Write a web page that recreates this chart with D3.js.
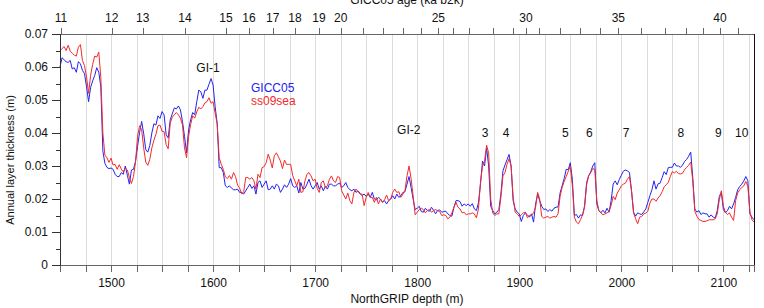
<!DOCTYPE html>
<html>
<head>
<meta charset="utf-8">
<script src="https://cdn.jsdelivr.net/npm/d3@7"></script>
<style>
  body { margin: 0; background: #fff; }
  svg text { font-family: "Liberation Sans", Arial, Helvetica, sans-serif; fill: #111; }
</style>
</head>
<body>
<div id="viz"></div>
<script>
// NorthGRIP depth (m) of each sample
const depth = [
  1450,1452,1454,1456,1458,1460,1462,1464,1466,1468,1470,1472,1474,1476,1478,1480,1482,1484,1486,1488,
  1490,1492,1494,1496,1498,1500,1502,1504,1506,1508,1510,1512,1514,1516,1518,1520,1522,1524,1526,1528,
  1530,1532,1534,1536,1538,1540,1542,1544,1546,1548,1550,1552,1554,1556,1558,1560,1562,1564,1566,1568,
  1570,1572,1574,1576,1578,1580,1582,1584,1586,1588,1590,1592,1594,1596,1598,1600,1602,1604,1606,1608,
  1610,1612,1614,1616,1618,1620,1622,1624,1626,1628,1630,1632,1634,1636,1638,1640,1642,1644,1646,1648,
  1650,1652,1654,1656,1658,1660,1662,1664,1666,1668,1670,1672,1674,1676,1678,1680,1682,1684,1686,1688,
  1690,1692,1694,1696,1698,1700,1702,1704,1706,1708,1710,1712,1714,1716,1718,1720,1722,1724,1726,1728,
  1730,1732,1734,1736,1738,1740,1742,1744,1746,1748,1750,1752,1754,1756,1758,1760,1762,1764,1766,1768,
  1770,1772,1774,1776,1778,1780,1782,1784,1786,1788,1790,1792,1794,1796,1798,1800,1802,1804,1806,1808,
  1810,1812,1814,1816,1818,1820,1822,1824,1826,1828,1830,1832,1834,1836,1838,1840,1842,1844,1846,1848,
  1850,1852,1854,1856,1858,1860,1862,1864,1866,1868,1870,1872,1874,1876,1878,1880,1882,1884,1886,1888,
  1890,1892,1894,1896,1898,1900,1902,1904,1906,1908,1910,1912,1914,1916,1918,1920,1922,1924,1926,1928,
  1930,1932,1934,1936,1938,1940,1942,1944,1946,1948,1950,1952,1954,1956,1958,1960,1962,1964,1966,1968,
  1970,1972,1974,1976,1978,1980,1982,1984,1986,1988,1990,1992,1994,1996,1998,2000,2002,2004,2006,2008,
  2010,2012,2014,2016,2018,2020,2022,2024,2026,2028,2030,2032,2034,2036,2038,2040,2042,2044,2046,2048,
  2050,2052,2054,2056,2058,2060,2062,2064,2066,2068,2070,2072,2074,2076,2078,2080,2082,2084,2086,2088,
  2090,2092,2094,2096,2098,2100,2102,2104,2106,2108,2110,2112,2114,2116,2118,2120,2122,2124,2126,2128,
  2130
];

// annual layer thickness (m), GICC05
const gicc05 = [
  0.0600,0.0628,0.0622,0.0616,0.0614,0.0620,0.0594,0.0598,0.0584,0.0616,0.0610,0.0590,0.0580,0.0540,0.0495,0.0538,0.0558,0.0574,0.0598,0.0584,
  0.0540,0.0345,0.0308,0.0296,0.0292,0.0294,0.0290,0.0275,0.0268,0.0268,0.0280,0.0275,0.0300,0.0272,0.0245,0.0288,0.0290,0.0314,0.0360,0.0402,
  0.0435,0.0398,0.0350,0.0342,0.0362,0.0400,0.0428,0.0424,0.0452,0.0444,0.0465,0.0455,0.0395,0.0385,0.0440,0.0458,0.0476,0.0473,0.0482,
  0.0470,0.0435,0.0390,0.0340,0.0410,0.0440,0.0462,0.0455,0.0495,0.0530,0.0525,0.0505,0.0530,0.0530,0.0548,0.0565,0.0545,0.0480,0.0430,0.0295,
  0.0295,0.0280,0.0240,0.0235,0.0240,0.0233,0.0228,0.0228,0.0230,0.0220,0.0220,0.0215,0.0225,0.0235,0.0245,0.0232,0.0240,0.0215,0.0250,0.0255,
  0.0235,0.0245,0.0255,0.0228,0.0230,0.0240,0.0230,0.0245,0.0240,0.0220,0.0230,0.0243,0.0235,0.0245,0.0262,0.0240,0.0235,
  0.0240,0.0218,0.0250,0.0230,0.0232,0.0245,0.0260,0.0240,0.0230,0.0240,0.0250,0.0230,0.0240,0.0225,0.0238,0.0230,0.0245,0.0245,0.0240,0.0240,
  0.0245,0.0248,0.0235,0.0240,0.0250,0.0235,0.0228,0.0225,0.0230,0.0220,0.0225,0.0217,0.0210,0.0215,0.0208,0.0215,0.0205,0.0220,0.0200,0.0197,
  0.0205,0.0200,0.0190,0.0195,0.0185,0.0195,0.0200,0.0210,0.0200,0.0215,0.0205,0.0210,0.0220,0.0222,0.0245,0.0268,0.0235,0.0200,
  0.0168,0.0172,0.0178,0.0162,0.0160,0.0172,0.0165,0.0163,0.0175,0.0166,0.0155,0.0165,0.0167,0.0160,0.0162,0.0163,0.0155,0.0150,0.0148,0.0175,
  0.0195,0.0195,0.0192,0.0178,0.0185,0.0180,0.0185,0.0178,0.0186,0.0170,0.0165,0.0188,0.0245,0.0315,0.0300,0.0355,0.0300,0.0178,0.0165,0.0155,
  0.0160,0.0168,0.0215,0.0285,0.0303,0.0319,0.0335,0.0300,0.0195,0.0170,0.0160,0.0155,0.0132,0.0150,0.0158,0.0152,0.0145,0.0155,
  0.0130,0.0185,0.0215,0.0195,0.0178,0.0168,0.0170,0.0162,0.0168,0.0163,0.0172,0.0175,0.0176,0.0218,0.0240,0.0262,0.0290,0.0289,0.0310,0.0260,
  0.0150,0.0153,0.0142,0.0152,0.0150,0.0180,0.0250,0.0271,0.0282,0.0300,0.0310,0.0185,0.0165,0.0158,0.0166,0.0158,0.0172,0.0160,0.0195,0.0245,
  0.0255,0.0243,0.0259,0.0272,0.0284,0.0288,0.0285,0.0280,0.0225,0.0160,0.0148,0.0158,0.0155,0.0153,0.0161,0.0170,0.0190,0.0210,
  0.0228,0.0255,0.0230,0.0246,0.0248,0.0265,0.0283,0.0274,0.0295,0.0296,0.0296,0.0309,0.0300,0.0300,0.0296,0.0303,0.0314,0.0320,0.0330,0.0342,
  0.0265,0.0170,0.0160,0.0165,0.0153,0.0158,0.0155,0.0155,0.0145,0.0152,0.0145,0.0142,0.0165,0.0208,0.0220,0.0168,0.0158,0.0165,0.0178,0.0170,
  0.0185,0.0205,0.0228,0.0238,0.0245,0.0255,0.0268,0.0255,0.0155,0.0145,0.0137
];

// annual layer thickness (m), ss09sea
const ss09sea = [
  0.0649,0.0656,0.0662,0.0650,0.0666,0.0648,0.0642,0.0636,0.0633,0.0660,0.0668,0.0620,0.0604,0.0570,0.0520,0.0575,0.0608,0.0633,0.0630,0.0645,
  0.0568,0.0400,0.0333,0.0325,0.0311,0.0324,0.0303,0.0305,0.0290,0.0304,0.0291,0.0282,0.0294,0.0288,0.0265,0.0247,0.0268,0.0312,0.0390,0.0422,
  0.0410,0.0355,0.0312,0.0302,0.0320,0.0355,0.0378,0.0396,0.0422,0.0424,0.0405,0.0404,0.0365,0.0352,0.0430,0.0448,0.0455,0.0462,0.0455,
  0.0445,0.0425,0.0355,0.0325,0.0390,0.0426,0.0452,0.0445,0.0464,0.0478,0.0473,0.0480,0.0491,0.0495,0.0507,0.0490,0.0495,0.0460,0.0428,0.0325,
  0.0305,0.0290,0.0267,0.0262,0.0271,0.0260,0.0280,0.0268,0.0242,0.0233,0.0215,0.0222,0.0265,0.0265,0.0260,0.0265,0.0255,0.0230,0.0275,0.0265,
  0.0295,0.0298,0.0310,0.0336,0.0318,0.0294,0.0331,0.0340,0.0328,0.0315,0.0292,0.0318,0.0305,0.0305,0.0305,0.0271,0.0255,
  0.0240,0.0260,0.0220,0.0222,0.0255,0.0275,0.0280,0.0270,0.0255,0.0260,0.0232,0.0220,0.0250,0.0255,0.0235,0.0240,0.0260,0.0270,0.0255,0.0250,
  0.0268,0.0265,0.0225,0.0212,0.0200,0.0218,0.0195,0.0185,0.0220,0.0230,0.0222,0.0215,0.0215,0.0180,0.0205,0.0220,0.0205,0.0205,0.0190,0.0205,
  0.0185,0.0200,0.0190,0.0198,0.0212,0.0195,0.0200,0.0220,0.0230,0.0220,0.0222,0.0205,0.0215,0.0225,0.0270,0.0300,0.0262,0.0210,
  0.0152,0.0160,0.0168,0.0172,0.0168,0.0158,0.0165,0.0168,0.0160,0.0165,0.0168,0.0165,0.0162,0.0150,0.0152,0.0150,0.0140,0.0145,0.0158,0.0175,
  0.0190,0.0175,0.0170,0.0158,0.0160,0.0152,0.0155,0.0155,0.0158,0.0155,0.0143,0.0170,0.0250,0.0300,0.0315,0.0363,0.0340,0.0200,0.0158,0.0150,
  0.0155,0.0155,0.0205,0.0270,0.0280,0.0305,0.0322,0.0300,0.0205,0.0160,0.0155,0.0147,0.0152,0.0158,0.0160,0.0143,0.0150,0.0150,
  0.0158,0.0175,0.0220,0.0200,0.0147,0.0142,0.0145,0.0147,0.0142,0.0145,0.0147,0.0145,0.0155,0.0208,0.0235,0.0253,0.0268,0.0284,0.0300,0.0240,
  0.0145,0.0130,0.0125,0.0137,0.0152,0.0175,0.0243,0.0270,0.0280,0.0292,0.0290,0.0195,0.0165,0.0158,0.0152,0.0155,0.0158,0.0162,0.0180,0.0208,
  0.0198,0.0218,0.0228,0.0240,0.0245,0.0248,0.0260,0.0268,0.0225,0.0158,0.0140,0.0125,0.0145,0.0147,0.0155,0.0157,0.0163,0.0188,
  0.0200,0.0200,0.0193,0.0203,0.0210,0.0222,0.0237,0.0243,0.0250,0.0268,0.0283,0.0279,0.0284,0.0277,0.0276,0.0278,0.0289,0.0296,0.0302,0.0312,
  0.0255,0.0163,0.0148,0.0138,0.0135,0.0132,0.0132,0.0134,0.0137,0.0137,0.0137,0.0140,0.0155,0.0198,0.0225,0.0178,0.0160,0.0153,0.0158,0.0145,
  0.0135,0.0195,0.0218,0.0228,0.0235,0.0240,0.0253,0.0238,0.0160,0.0137,0.0130
];

// top axis: GICC05 age (ka b2k) and the depth where it falls
const ageTicks = [11,12,13,14,15,16,17,18,19,20,21,22,23,24,25,26,27,28,29,30,31,32,33,34,35,36,37,38,39,40,41];
const ageDepth = [1451.0,1500.7,1531.0,1572.5,1612.6,1635.2,1658.4,1680.3,1703.8,1725.0,1747.2,1766.2,1785.8,1804.0,1820.7,
  1834.8,1851.0,1874.6,1893.6,1906.6,1919.6,1939.9,1959.5,1979.1,1997.1,2018.9,2042.8,2063.3,2079.7,2096.7,2114.6];
const ageLabelled = [11,12,13,14,15,16,17,18,19,20,25,30,35,40];

const depthTicks = [1500,1600,1700,1800,1900,2000,2100];
const yTicks = [0,0.01,0.02,0.03,0.04,0.05,0.06,0.07];

// event labels
const events = ['GI-1','GI-2','3','4','5','6','7','8','9','10'];
const eventDepth = [1595.0,1791.7,1866.4,1887.0,1945.1,1968.6,2004.6,2058.2,2095.0,2117.9];
const eventLevel = [0.0585,0.0397,0.0388,0.0388,0.0388,0.0388,0.0388,0.0388,0.0388,0.0388];

const width = 764, height = 308;
const margin = { top: 34, right: 10, bottom: 43, left: 60 };

const x = d3.scaleLinear().domain([1450, 2130]).range([margin.left, width - margin.right]);
const y = d3.scaleLinear().domain([0, 0.07]).range([height - margin.bottom, margin.top]);
const x0 = x.range()[0], x1 = x.range()[1], yb = y(0), yt = y(0.07);

const svg = d3.select('#viz').append('svg')
  .attr('width', width)
  .attr('height', height);

// vertical grid every 25 m
svg.append('g')
  .selectAll('line')
  .data(d3.range(1475, 2130, 25))
  .enter().append('line')
    .attr('x1', d => Math.round(x(d)) + 0.5)
    .attr('x2', d => Math.round(x(d)) + 0.5)
    .attr('y1', yt).attr('y2', yb)
    .attr('stroke', '#dcdcdc')
    .attr('stroke-width', 1);

// series
const line = d3.line()
  .x((d, i) => x(depth[i]))
  .y(d => y(d));

svg.append('path')
  .datum(gicc05)
  .attr('fill', 'none')
  .attr('stroke', '#2323f0')
  .attr('stroke-width', 1)
  .attr('stroke-linejoin', 'round')
  .attr('d', line);

svg.append('path')
  .datum(ss09sea)
  .attr('fill', 'none')
  .attr('stroke', '#f42a2a')
  .attr('stroke-width', 1)
  .attr('stroke-linejoin', 'round')
  .attr('d', line);

// axes
function styleAxis(g, col) {
  g.selectAll('.domain').attr('stroke', col);
  g.selectAll('.tick line').attr('stroke', col);
  g.selectAll('text')
    .attr('font-size', '12px')
    .attr('font-family', '"Liberation Sans", Arial, sans-serif')
    .attr('fill', '#111');
  g.attr('shape-rendering', 'crispEdges');
}

// bottom
const bMinor = svg.append('g')
  .attr('transform', `translate(0,${yb})`)
  .call(d3.axisBottom(x).tickValues(d3.range(1450, 2130, 25)).tickSize(7).tickFormat(''));
styleAxis(bMinor, '#666');
const bMajor = svg.append('g')
  .attr('transform', `translate(0,${yb})`)
  .call(d3.axisBottom(x).tickValues(depthTicks).tickSize(7).tickPadding(6).tickFormat(d3.format('d')));
styleAxis(bMajor, '#666');
bMajor.select('.domain').remove();

// top (age)
const tx = d3.scaleOrdinal().domain(ageTicks).range(ageDepth.map(d => x(d)));
const tAxis = svg.append('g').attr('shape-rendering', 'crispEdges');
tAxis.append('line')
  .attr('x1', x0).attr('x2', x1)
  .attr('y1', yt + 0.5).attr('y2', yt + 0.5)
  .attr('stroke', '#666');
tAxis.selectAll('.tt')
  .data(ageTicks)
  .enter().append('line')
    .attr('x1', d => Math.round(tx(d)) + 0.5)
    .attr('x2', d => Math.round(tx(d)) + 0.5)
    .attr('y1', yt).attr('y2', yt - 6)
    .attr('stroke', '#666');
tAxis.selectAll('text')
  .data(ageLabelled)
  .enter().append('text')
    .attr('x', d => tx(d))
    .attr('y', 22)
    .attr('text-anchor', 'middle')
    .attr('font-size', '12px')
    .text(d => d);

// left
const lMinor = svg.append('g')
  .attr('transform', `translate(${x0},0)`)
  .call(d3.axisLeft(y).tickValues(d3.range(0.005, 0.07, 0.01)).tickSize(4).tickFormat(''));
styleAxis(lMinor, '#333');
const lMajor = svg.append('g')
  .attr('transform', `translate(${x0},0)`)
  .call(d3.axisLeft(y).tickValues(yTicks).tickSize(8).tickPadding(4).tickFormat(d => d === 0 ? '0' : d3.format('.2f')(d)));
styleAxis(lMajor, '#333');

// right frame line
svg.append('line')
  .attr('x1', x1 + 0.5).attr('x2', x1 + 0.5)
  .attr('y1', yt).attr('y2', yb)
  .attr('stroke', '#111')
  .attr('shape-rendering', 'crispEdges');

// titles
svg.append('text')
  .attr('x', (x0 + x1) / 2).attr('y', 303)
  .attr('text-anchor', 'middle').attr('font-size', '12px')
  .text('NorthGRIP depth (m)');
svg.append('text')
  .attr('x', (x0 + x1) / 2).attr('y', 3.5)
  .attr('text-anchor', 'middle').attr('font-size', '12px')
  .text('GICC05 age (ka b2k)');
svg.append('text')
  .attr('transform', 'translate(14,160)rotate(-90)')
  .attr('text-anchor', 'middle').attr('font-size', '11px')
  .text('Annual layer thickness (m)');

// event labels
svg.selectAll('.ev')
  .data(events)
  .enter().append('text')
    .attr('x', (d, i) => x(eventDepth[i]))
    .attr('y', (d, i) => y(eventLevel[i]))
    .attr('text-anchor', 'middle')
    .attr('font-size', '12px')
    .text(d => d);

// legend
svg.append('text').attr('x', 251).attr('y', 92)
  .attr('font-size', '12px').style('fill', '#2323f0').text('GICC05');
svg.append('text').attr('x', 251).attr('y', 105)
  .attr('font-size', '12px').style('fill', '#f42a2a').text('ss09sea');
</script>
</body>
</html>
